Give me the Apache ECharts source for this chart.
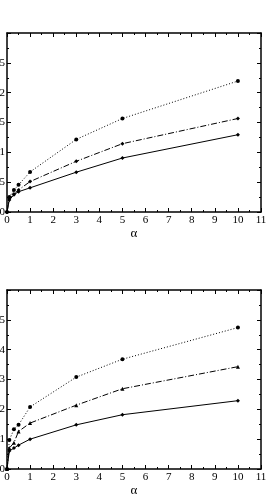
<!DOCTYPE html>
<html>
<head>
<meta charset="utf-8">
<script src="https://cdn.jsdelivr.net/npm/echarts@6/dist/echarts.min.js"></script>
<style>
html, body { margin: 0; padding: 0; background: #fff; }
#chart { width: 268px; height: 504px; }
</style>
</head>
<body>
<div id="chart"></div>
<script>
// alpha values (x) shared by both panels
var alpha = [0, 0.1, 0.3, 0.5, 1, 3, 5, 10];

// upper panel
var solidTop = [0, 0.2, 0.29, 0.34, 0.405, 0.667, 0.905, 1.295];
var dashTop = [0, 0.22, 0.3, 0.37, 0.51, 0.85, 1.145, 1.567];
var dotTop = [0, 0.25, 0.367, 0.455, 0.672, 1.217, 1.567, 2.195];

// lower panel
var solidBot = [0, 0.6, 0.7, 0.8, 1.0, 1.48, 1.82, 2.29];
var dashBot = [0, 0.7, 0.88, 1.26, 1.54, 2.14, 2.69, 3.43];
var dotBot = [0, 0.97, 1.33, 1.48, 2.08, 3.08, 3.68, 4.74];

var font = 'Liberation Serif';
var frame = { color: '#000', width: 1.5 };

function pairs(ys) {
	return alpha.map(function(x, i) { return [x, ys[i]]; });
}

function xAxes(g) {
	var base = {
		type: 'value', gridIndex: g, min: 0, max: 11, interval: 1,
		axisLine: { show: true, onZero: false, lineStyle: frame },
		axisTick: { show: true, inside: true, length: 4, lineStyle: { color: '#000' } },
		minorTick: { show: true, splitNumber: 2, length: 2, lineStyle: { color: '#000' } },
		splitLine: { show: false }
	};
	var bottom = Object.assign({}, base, {
		position: 'bottom',
		name: 'α', nameLocation: 'middle', nameGap: 15,
		nameTextStyle: { fontFamily: font, fontSize: 13, color: '#000' },
		axisLabel: { fontFamily: font, fontSize: 11, color: '#000', margin: 3 }
	});
	var top = Object.assign({}, base, { position: 'top', axisLabel: { show: false } });
	return [bottom, top];
}

function yAxes(g, max, step) {
	var base = {
		type: 'value', gridIndex: g, min: 0, max: max, interval: step,
		axisLine: { show: true, onZero: false, lineStyle: frame },
		axisTick: { show: true, inside: true, length: 4, lineStyle: { color: '#000' } },
		minorTick: { show: true, splitNumber: 2, length: 2, lineStyle: { color: '#000' } },
		splitLine: { show: false }
	};
	var left = Object.assign({}, base, {
		position: 'left',
		axisLabel: {
			fontFamily: font, fontSize: 11, color: '#000', margin: 2,
			showMaxLabel: false
		}
	});
	var right = Object.assign({}, base, { position: 'right', axisLabel: { show: false } });
	return [left, right];
}

function line(g, ys, type, symbol) {
	return {
		type: 'line', xAxisIndex: g * 2, yAxisIndex: g * 2,
		data: pairs(ys),
		symbol: symbol, symbolSize: 4,
		itemStyle: { color: '#000' },
		lineStyle: { color: '#000', width: 1, type: type },
		animation: false
	};
}

var gridBase = { left: 7, right: 7, height: 179, containLabel: false, outerBoundsMode: 'none' };

var chart = echarts.init(document.getElementById('chart'));
chart.setOption({
	backgroundColor: '#fff',
	grid: [
		Object.assign({ top: 33 }, gridBase),
		Object.assign({ top: 290 }, gridBase)
	],
	xAxis: xAxes(0).concat(xAxes(1)),
	yAxis: yAxes(0, 3, 0.5).concat(yAxes(1, 6, 1)),
	series: [
		line(0, solidTop, 'solid', 'diamond'),
		line(0, dashTop, [6, 2, 1, 2], 'diamond'),
		line(0, dotTop, [1, 2], 'circle'),
		line(1, solidBot, 'solid', 'diamond'),
		line(1, dashBot, [6, 2, 1, 2], 'triangle'),
		line(1, dotBot, [1, 2], 'circle')
	]
});
</script>
</body>
</html>
